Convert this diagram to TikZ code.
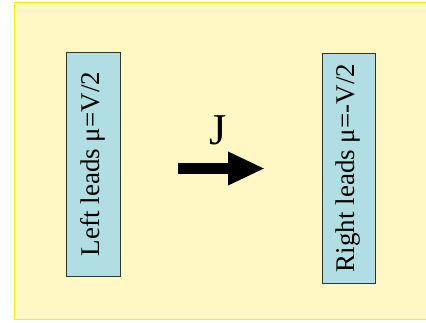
\documentclass[tikz,border=0pt]{standalone}
\usepackage{fontspec}
\setmainfont{Liberation Serif}
\usetikzlibrary{arrows.meta}
\definecolor{bgyellow}{HTML}{FFF7C4}
\definecolor{bordery}{HTML}{F5F000}
\definecolor{leadblue}{HTML}{B0DEE2}
\tikzset{
  lead/.style={draw=black!80, line width=0.8pt, fill=leadblue, rotate=90,
    inner sep=0pt, font=\fontsize{27}{30}\selectfont},
  bigarrow/.style={line width=11pt, -{Triangle[length=37pt,width=31pt]}}
}
\begin{document}
\begin{tikzpicture}[x=1pt,y=-1pt]
\useasboundingbox (0,0) rectangle (426,322);
\fill[bgyellow] (14,2) rectangle (440,319);
\draw[bordery, line width=1pt] (440,2) -- (14,2) -- (14,319) -- (440,319);
\node[lead, minimum width=224pt, minimum height=54pt] (left) at (93,164) {Left leads μ=V/2};
\node[lead, minimum width=230pt, minimum height=53pt] (right) at (348.5,168) {Right leads μ=-V/2};
\node[font=\fontsize{44}{48}\selectfont, inner sep=0pt] (J) at (218,130) {J};
\coordinate (a0) at (178,168.5);
\coordinate (a1) at (265,168.5);
\draw[bigarrow] (a0) -- (a1);
\end{tikzpicture}
\end{document}
